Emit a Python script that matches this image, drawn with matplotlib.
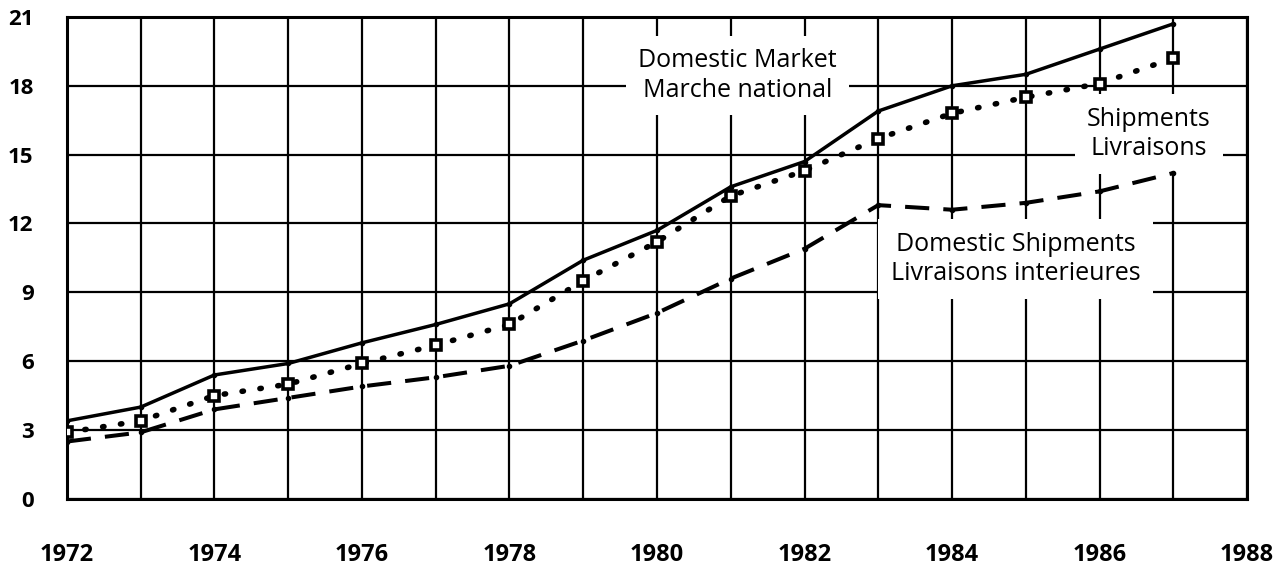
import matplotlib
matplotlib.use("Agg")
import matplotlib.pyplot as plt

# values
years = list(range(1972, 1988))
domestic_market = [3.4, 4.0, 5.4, 5.9, 6.8, 7.6, 8.5, 10.4, 11.7, 13.6, 14.7, 16.9, 18.0, 18.5, 19.6, 20.7]
shipments = [2.9, 3.4, 4.5, 5.0, 5.9, 6.7, 7.6, 9.5, 11.2, 13.2, 14.3, 15.7, 16.8, 17.5, 18.1, 19.2]
domestic_shipments = [2.5, 2.9, 3.9, 4.4, 4.9, 5.3, 5.8, 6.9, 8.1, 9.6, 10.9, 12.8, 12.6, 12.9, 13.4, 14.2]

x_ticks = list(range(1972, 1989, 2))
y_ticks = list(range(0, 22, 3))

plt.rcParams["font.family"] = ["Open Sans", "DejaVu Sans"]

fig = plt.figure(figsize=(12.87, 5.65), dpi=100)
ax = fig.add_axes([0.052, 0.117, 0.917, 0.853])

ax.plot(years, domestic_market, color="black", lw=2.5, marker="o", ms=3,
        solid_capstyle="round", zorder=4)
ax.plot(years, shipments, color="black", lw=4.0, linestyle=(0, (0.25, 3.0)),
        dash_capstyle="round", zorder=4)
ax.plot(years, shipments, color="none", marker="s", ms=7.5, mfc="white", mec="black",
        mew=2.6, zorder=5)
ax.plot(years, domestic_shipments, color="black", lw=2.9, linestyle=(0, (6, 3.5)),
        marker="o", ms=3, zorder=4)

ax.set_xlim(1972, 1988)
ax.set_ylim(0, 21)
ax.set_xticks(x_ticks)
ax.set_xticks(range(1972, 1989), minor=True)
ax.set_yticks(y_ticks)
ax.grid(True, which="both", color="black", lw=1.6)
ax.set_axisbelow(True)
ax.tick_params(which="both", length=0)
ax.tick_params(axis="x", pad=32, labelsize=17)
ax.tick_params(axis="y", pad=24, labelsize=16)
for lab in ax.get_xticklabels() + ax.get_yticklabels():
    lab.set_fontweight("bold")
for sp in ax.spines.values():
    sp.set_linewidth(2.2)

box = dict(facecolor="white", edgecolor="none", pad=9)
ax.text(1981.09, 18.45, "Domestic Market\nMarche national", ha="center", va="center",
        fontsize=18, linespacing=1.25, bbox=box, zorder=3)
ax.text(1986.67, 15.9, "Shipments\nLivraisons", ha="center", va="center",
        fontsize=18, linespacing=1.25, bbox=box, zorder=3)
ax.text(1984.86, 10.45, "Domestic Shipments\nLivraisons interieures", ha="center", va="center",
        fontsize=18, linespacing=1.25, bbox=box, zorder=3)

fig.savefig("out.png", dpi=100)
